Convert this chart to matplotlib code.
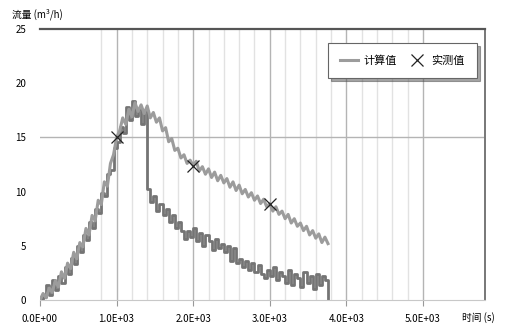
import numpy as np
import matplotlib
matplotlib.use("Agg")
import matplotlib.pyplot as plt

plt.rcParams['font.family'] = ['Noto Sans CJK SC', 'DejaVu Sans']

# sample spacing of both measured series (x units)
step = 40

calc_vals = [0.0, 0.6, 0.2, 1.1, 0.7, 1.8, 1.2, 2.6, 2.0, 3.4,
             2.9, 4.4, 3.8, 5.3, 4.9, 6.6, 6.0, 7.8, 7.3, 9.2,
             8.8, 10.9, 10.5, 12.6, 13.4, 15.0, 15.6, 16.8, 16.2, 17.6,
             16.9, 18.2, 17.4, 18.0, 17.2, 17.9, 16.8, 17.3, 16.4, 16.8,
             15.6, 15.9, 14.6, 14.9, 13.8, 14.0, 13.1, 13.4, 12.6, 12.9,
             12.4, 12.8, 11.9, 12.3, 11.6, 12.1, 11.3, 11.8, 11.0, 11.5,
             10.8, 11.2, 10.4, 10.9, 10.1, 10.6, 9.8, 10.2, 9.5, 9.9,
             9.2, 9.6, 8.9, 9.3, 8.6, 8.9, 8.2, 8.6, 7.9, 8.2,
             7.5, 7.9, 7.1, 7.5, 6.8, 7.1, 6.4, 6.8, 6.0, 6.4,
             5.7, 6.1, 5.3, 5.8, 5.2]

meas_vals = [0.0, 0.3, 1.4, 0.5, 1.8, 0.9, 2.2, 1.6, 3.0, 2.4,
             3.9, 3.3, 5.0, 4.4, 6.0, 5.5, 7.2, 6.6, 8.4, 8.0,
             9.9, 9.6, 11.6, 12.0, 14.0, 14.6, 16.0, 15.4, 17.8, 16.6,
             18.4, 17.0, 17.6, 16.2, 17.4, 10.2, 9.0, 9.6, 8.2, 8.9,
             7.8, 8.4, 7.2, 7.8, 6.6, 7.2, 6.4, 5.6, 6.4, 5.8,
             6.6, 5.4, 6.2, 5.0, 6.0, 5.4, 4.6, 5.6, 4.8, 5.2,
             4.4, 5.0, 3.6, 4.8, 3.4, 3.8, 3.0, 3.6, 2.8, 3.4,
             2.6, 3.2, 2.4, 2.0, 2.8, 2.2, 3.0, 1.8, 2.6, 2.2,
             1.6, 2.8, 1.4, 2.4, 2.0, 1.2, 2.6, 1.6, 2.2, 1.0,
             2.4, 1.4, 2.2, 1.8, 0.0]

# check points (× markers)
point_x = [1000, 2000, 3000]
point_y = [15.0, 12.4, 8.9]

x_ticks = [0, 1000, 2000, 3000, 4000, 5000]
x_labels = ["0.0E+00", "1.0E+03", "2.0E+03", "3.0E+03", "4.0E+03", "5.0E+03"]
y_ticks = [0, 5, 10, 15, 20, 25]

fig = plt.figure(figsize=(5.07, 3.31), dpi=100)
ax = fig.add_axes([40 / 507, 1 - 300 / 331, 445 / 507, 271 / 331])

t1 = np.arange(len(calc_vals)) * step
t2 = np.arange(len(meas_vals)) * step

# grid lines (minor every 200, major every 1000)
for x in range(800, 5001, 200):
    if x % 1000 == 0:
        ax.axvline(x, color='#b4b4b4', lw=1.0, zorder=0)
    else:
        ax.axvline(x, color='#e2e2e2', lw=1.0, zorder=0)
ax.axhline(15, color='#b4b4b4', lw=1.0, zorder=0)

ax.step(t2, meas_vals, where='post', color='#747474', lw=2.0, zorder=2)
line1, = ax.plot(t1, calc_vals, color='#9c9c9c', lw=2.2, zorder=3)
pts, = ax.plot(point_x, point_y, ls='none', marker='x', ms=9, mew=0.9,
               color='#222222', zorder=4)

ax.set_xlim(0, 5810)
ax.set_ylim(0, 25)
ax.set_xticks(x_ticks)
ax.set_xticklabels(x_labels)
ax.set_yticks(y_ticks)
ax.tick_params(axis='x', length=4, color='#999999', labelsize=7, pad=6)
ax.tick_params(axis='y', length=0, labelsize=7, pad=10)

ax.spines['left'].set_visible(False)
ax.spines['top'].set_color('#555555')
ax.spines['top'].set_linewidth(1.6)
ax.spines['right'].set_color('#777777')
ax.spines['right'].set_linewidth(1.4)
ax.spines['bottom'].set_color('#c8c8c8')

fig.text(12 / 507, 1 - 14 / 331, "流量 (m³/h)", fontsize=7, va='center')
fig.text(462 / 507, 1 - 318 / 331, "时间 (s)", fontsize=7, va='center')

leg = ax.legend([line1, pts], ["计算值", "实测值"], ncol=2, loc='upper right',
                bbox_to_anchor=(0.995, 0.967), fontsize=8, frameon=True,
                fancybox=False, shadow=True, handlelength=1.6,
                columnspacing=1.0, handletextpad=0.5, borderpad=1.1)
leg.get_frame().set_edgecolor('#666666')
leg.get_frame().set_linewidth(0.8)

fig.savefig("out.png", dpi=100)
